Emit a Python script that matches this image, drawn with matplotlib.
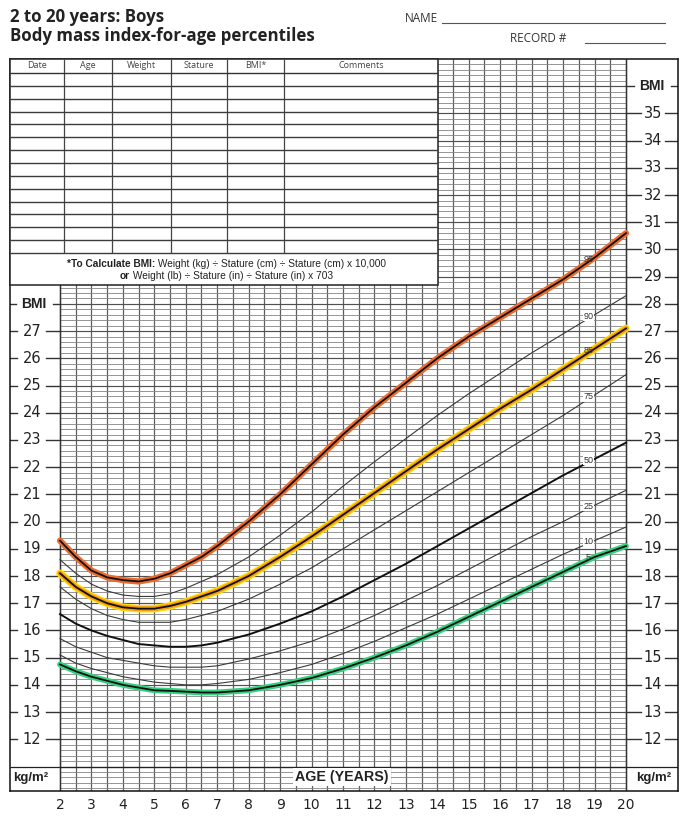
import numpy as np
import matplotlib
matplotlib.use('Agg')
import matplotlib.pyplot as plt

# CDC BMI-for-age percentiles, boys 2-20
ages = [2, 2.5, 3, 3.5, 4, 4.5, 5, 5.5, 6, 6.5, 7, 8, 9, 10, 11, 12, 13, 14, 15, 16, 17, 18, 19, 20]
p95 = [19.3, 18.7, 18.2, 17.95, 17.85, 17.8, 17.9, 18.1, 18.4, 18.7, 19.1, 20.0, 21.0, 22.1, 23.2, 24.2, 25.1, 26.0, 26.8, 27.5, 28.2, 28.9, 29.7, 30.6]
p90 = [18.6, 18.1, 17.7, 17.45, 17.3, 17.25, 17.25, 17.35, 17.55, 17.8, 18.05, 18.7, 19.5, 20.35, 21.3, 22.2, 23.05, 23.9, 24.7, 25.45, 26.2, 26.9, 27.6, 28.3]
p85 = [18.1, 17.6, 17.25, 17.0, 16.85, 16.8, 16.8, 16.9, 17.05, 17.25, 17.45, 18.0, 18.7, 19.45, 20.25, 21.05, 21.85, 22.65, 23.4, 24.15, 24.85, 25.6, 26.35, 27.1]
p75 = [17.6, 17.15, 16.8, 16.55, 16.4, 16.3, 16.3, 16.3, 16.4, 16.55, 16.7, 17.15, 17.7, 18.3, 19.0, 19.7, 20.4, 21.1, 21.8, 22.5, 23.2, 23.9, 24.65, 25.4]
p50 = [16.6, 16.25, 16.0, 15.8, 15.65, 15.5, 15.45, 15.4, 15.4, 15.45, 15.55, 15.85, 16.25, 16.7, 17.25, 17.85, 18.45, 19.1, 19.75, 20.4, 21.05, 21.7, 22.3, 22.9]
p25 = [15.7, 15.4, 15.2, 15.0, 14.9, 14.8, 14.7, 14.65, 14.65, 14.65, 14.7, 14.95, 15.25, 15.6, 16.05, 16.55, 17.1, 17.65, 18.25, 18.85, 19.45, 20.0, 20.6, 21.15]
p10 = [15.1, 14.8, 14.6, 14.45, 14.3, 14.2, 14.1, 14.05, 14.0, 14.0, 14.05, 14.2, 14.45, 14.75, 15.15, 15.6, 16.1, 16.6, 17.15, 17.7, 18.25, 18.8, 19.3, 19.8]
p5 = [14.75, 14.5, 14.3, 14.15, 14.0, 13.9, 13.8, 13.78, 13.75, 13.72, 13.72, 13.8, 14.0, 14.25, 14.6, 15.0, 15.45, 15.95, 16.5, 17.05, 17.6, 18.15, 18.7, 19.1]

age_ticks = list(range(2, 21))
left_bmi = list(range(12, 28))
right_bmi = list(range(12, 36))
headers = ['Date', 'Age', 'Weight', 'Stature', 'BMI*', 'Comments']

W, H = 681, 816
NUM = ['Liberation Sans Narrow', 'DejaVu Sans']
SANS = ['Liberation Sans', 'DejaVu Sans']
HEAD = ['Open Sans', 'DejaVu Sans']
INK = '#222222'


def age_at(x):
    return 2 + (x - 60) * 18 / 566


def bmi_at(y):
    return 37 - (y - 59) * 26.9 / 732


fig = plt.figure(figsize=(W / 100, H / 100), dpi=100)
ax = fig.add_axes([10 / W, 25 / H, 668 / W, 732 / H])
x0, x1 = age_at(10), age_at(678)
y0, y1 = 10.1, 37
ax.set_xlim(x0, x1)
ax.set_ylim(y0, y1)
for s in ax.spines.values():
    s.set_color('#111')
    s.set_linewidth(1.1)
ax.set_yticks([])
ax.set_xticks(age_ticks)
ax.set_xticklabels([str(a) for a in age_ticks], family=NUM, fontsize=10, color=INK)
ax.tick_params(axis='x', length=0, pad=5)

# grid
ax.vlines(np.arange(2, 20.01, 0.5), y0, y1, colors='#5e5e5e', lw=0.9, zorder=1)
ax.hlines(np.arange(10.2, 36.9, 0.2), 2, 20, colors='#858585', lw=0.6, zorder=1)
ax.hlines(np.arange(11, 37), 2, 20, colors='#505050', lw=0.85, zorder=1)
ax.vlines([2, 20], y0, y1, colors='#333', lw=1.0, zorder=1)
ax.hlines(11, x0, x1, colors='#222', lw=0.9, zorder=1)

# percentile curves
ax.plot(ages, p95, color='#ec6a2c', lw=4.5, solid_capstyle='round', zorder=3)
ax.plot(ages, p85, color='#ffe000', lw=5.5, solid_capstyle='round', zorder=3)
ax.plot(ages, p85, color='#f39a1c', lw=3.6, solid_capstyle='round', zorder=3)
ax.plot(ages, p5, color='#35d07f', lw=4.2, solid_capstyle='round', zorder=3)
for p in (p90, p75, p25, p10):
    ax.plot(ages, p, color='#3a3a3a', lw=0.8, zorder=4)
ax.plot(ages, p50, color='#111', lw=1.4, zorder=4)
for p in (p95, p85, p5):
    ax.plot(ages, p, color='#111', lw=1.3, zorder=4)

for name, p, thin in [('95', p95, False), ('90', p90, True), ('85', p85, False), ('75', p75, True),
                      ('50', p50, True), ('25', p25, True), ('10', p10, True), ('5', p5, False)]:
    yv = np.interp(18.8, ages, p)
    kw = dict(bbox=dict(fc='white', ec='none', pad=0.3)) if thin else {}
    ax.text(18.8, yv + 0.08, name, fontsize=6.5, family=SANS, color='#333',
            ha='center', va='center', zorder=5, **kw)

# side scales
for b in left_bmi:
    ax.plot([age_at(10), age_at(17)], [b, b], color='#333', lw=1, zorder=2)
    ax.plot([age_at(46), age_at(60)], [b, b], color='#333', lw=1, zorder=2)
    ax.text(age_at(32), b, str(b), family=NUM, fontsize=10.5, color=INK, ha='center', va='center')
for b in right_bmi:
    ax.plot([age_at(626), age_at(641)], [b, b], color='#333', lw=1, zorder=2)
    ax.plot([age_at(665), age_at(678)], [b, b], color='#333', lw=1, zorder=2)
    ax.text(age_at(653), b, str(b), family=NUM, fontsize=10.5, color=INK, ha='center', va='center')
ax.plot([age_at(10), age_at(16)], [28, 28], color='#333', lw=1)
ax.plot([age_at(53), age_at(60)], [28, 28], color='#333', lw=1)
ax.text(age_at(34), 28, 'BMI', family=SANS, fontsize=10, weight='bold', color=INK, ha='center', va='center')
ax.plot([age_at(626), age_at(634)], [36, 36], color='#333', lw=1)
ax.plot([age_at(671), age_at(678)], [36, 36], color='#333', lw=1)
ax.text(age_at(652), 36, 'BMI', family=SANS, fontsize=10, weight='bold', color=INK, ha='center', va='center')

ax.text(age_at(31), bmi_at(778), 'kg/m²', family=SANS, fontsize=9.5, weight='bold', color=INK, ha='center', va='center')
ax.text(age_at(654), bmi_at(778), 'kg/m²', family=SANS, fontsize=9.5, weight='bold', color=INK, ha='center', va='center')
ax.text(age_at(342), bmi_at(777), 'AGE (YEARS)', family=SANS, fontsize=10.3, weight='bold', color=INK,
        ha='center', va='center', zorder=6, bbox=dict(fc='white', ec='none', pad=1.5))

# overlay in pixel coordinates: record table and header
ov = fig.add_axes([0, 0, 1, 1], zorder=5)
ov.set_xlim(0, W)
ov.set_ylim(H, 0)
ov.axis('off')
ov.patch.set_alpha(0)

ov.add_patch(plt.Rectangle((10, 59), 428, 226, fc='white', ec='#222', lw=1.1))
cols = [10, 64, 112, 171, 227, 284, 438]
ov.vlines(cols[1:-1], 59, 253, colors='#444', lw=0.9)
ov.hlines(73, 10, 438, colors='#333', lw=1.0)
ov.hlines(np.linspace(73, 253, 15)[1:], 10, 438, colors='#3c3c3c', lw=1.0)
for h, a, b in zip(headers, cols[:-1], cols[1:]):
    ov.text((a + b) / 2, 66, h, family=HEAD, fontsize=6.5, color='#444', ha='center', va='center')

t1 = ov.text(67, 264, '*To Calculate BMI:', family=SANS, fontsize=7.3, weight='bold', color=INK, va='center')
ov.annotate(' Weight (kg) ÷ Stature (cm) ÷ Stature (cm) x 10,000', xy=(1, 0.5), xycoords=t1,
            family=SANS, fontsize=7.3, color=INK, va='center')
t2 = ov.text(120, 276, 'or', family=SANS, fontsize=7.3, weight='bold', color=INK, va='center')
ov.annotate(' Weight (lb) ÷ Stature (in) ÷ Stature (in) x 703', xy=(1, 0.5), xycoords=t2,
            family=SANS, fontsize=7.3, color=INK, va='center')

ov.text(10, 17, '2 to 20 years: Boys', family=HEAD, fontsize=12.2, weight='bold',
        fontstretch='normal', color=INK, va='center')
ov.text(10, 36, 'Body mass index-for-age percentiles', family=HEAD, fontsize=12.2,
        weight='bold', fontstretch='normal', color=INK, va='center')
ov.text(405, 18, 'NAME', family=HEAD, fontsize=8.5, color='#333', va='center')
ov.plot([442, 665], [23, 23], color='#555', lw=0.8)
ov.text(510, 38, 'RECORD #', family=HEAD, fontsize=8.5, color='#333', va='center')
ov.plot([585, 665], [43, 43], color='#555', lw=0.8)

fig.savefig('out.png', dpi=100)
